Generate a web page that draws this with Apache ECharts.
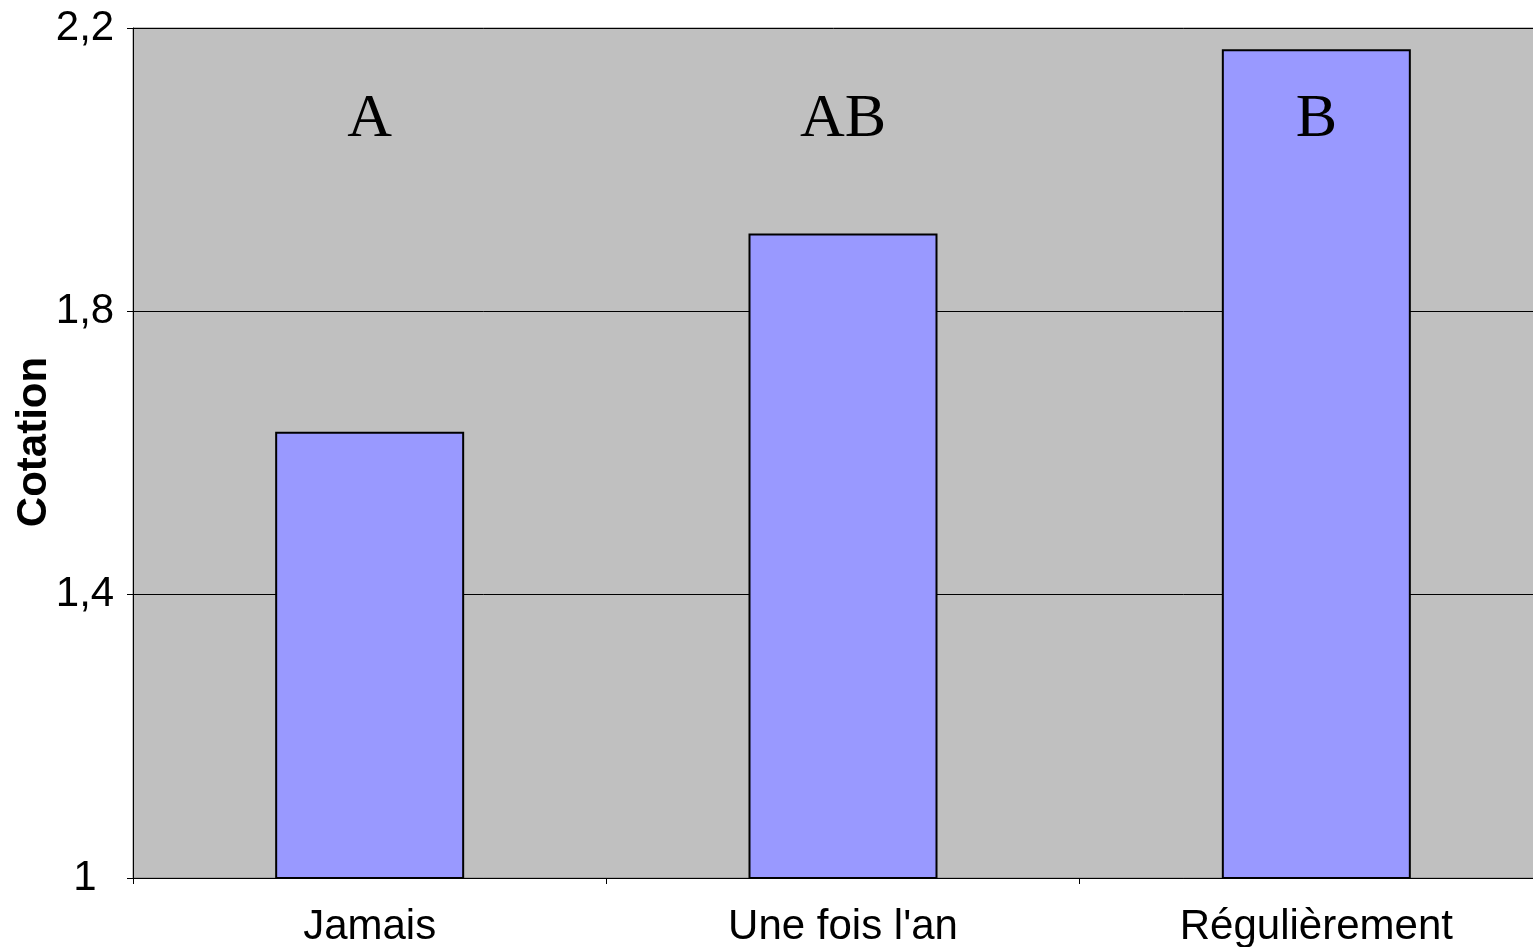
<!DOCTYPE html>
<html>
<head>
<meta charset="utf-8">
<script src="https://cdn.jsdelivr.net/npm/echarts@6/dist/echarts.min.js"></script>
<style>
html,body{margin:0;padding:0;background:#fff;}
#chart{width:1533px;height:947px;}
</style>
</head>
<body>
<div id="chart"></div>
<script>
const categories = ['Jamais', "Une fois l'an", 'Régulièrement'];
const values = [1.63, 1.91, 2.17];
const groupLetters = ['A', 'AB', 'B'];
const letterLevel = 2.07;
const yTicks = { min: 1, max: 2.2, interval: 0.4 };

const chart = echarts.init(document.getElementById('chart'));
chart.setOption({
  animation: false,
  backgroundColor: '#ffffff',
  grid: {
    left: 133, top: 28, width: 1420, height: 850,
    containLabel: false,
    outerBoundsMode: 'none',
    show: true, backgroundColor: '#c0c0c0', borderColor: '#808080', borderWidth: 1
  },
  xAxis: {
    type: 'category',
    data: categories,
    axisLine: { show: true, lineStyle: { color: '#000', width: 1 } },
    axisTick: { show: true, alignWithLabel: false, length: 6, lineStyle: { color: '#000' } },
    axisLabel: { color: '#000', fontFamily: 'Liberation Sans, Arial, sans-serif', fontSize: 42, margin: 28 },
    splitLine: { show: false }
  },
  yAxis: {
    type: 'value',
    min: yTicks.min, max: yTicks.max, interval: yTicks.interval,
    name: 'Cotation',
    nameLocation: 'middle',
    nameRotate: 90,
    nameGap: 78,
    nameMoveOverlap: false,
    nameTextStyle: {
      color: '#000', fontFamily: 'Liberation Sans, Arial, sans-serif', fontSize: 42, fontWeight: 'bold',
      padding: [0, 0, 0, 22]
    },
    axisLine: { show: true, lineStyle: { color: '#000', width: 1 } },
    axisTick: { show: true, length: 6, lineStyle: { color: '#000' } },
    axisLabel: {
      color: '#000', fontFamily: 'Liberation Sans, Arial, sans-serif', fontSize: 42, margin: 48,
      align: 'center',
      formatter: v => String(Math.round(v * 10) / 10).replace('.', ',')
    },
    splitLine: { show: true, lineStyle: { color: '#000', width: 1 } }
  },
  series: [
    {
      type: 'bar',
      data: values,
      barWidth: 189,
      itemStyle: { color: '#9999ff', borderColor: '#000', borderWidth: 2 }
    },
    {
      type: 'scatter',
      data: groupLetters.map((t, i) => [categories[i], letterLevel]),
      symbolSize: 0,
      z: 10,
      itemStyle: { opacity: 1 },
      label: {
        show: true,
        position: 'inside',
        formatter: p => groupLetters[p.dataIndex],
        color: '#000',
        opacity: 1,
        textBorderWidth: 0,
        fontFamily: 'Liberation Serif, Times New Roman, serif',
        fontSize: 62
      }
    }
  ]
});
</script>
</body>
</html>
